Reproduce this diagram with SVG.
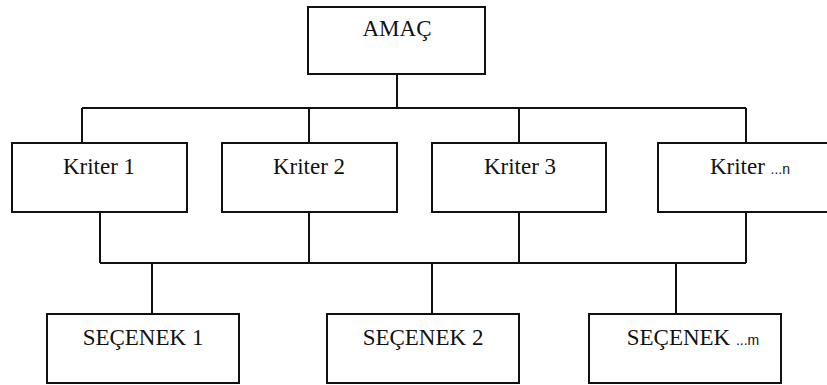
<svg xmlns="http://www.w3.org/2000/svg" width="827" height="385" viewBox="0 0 827 385">
<style>
.box{fill:#fff;stroke:#111;stroke-width:2}
.t{font-family:"Liberation Serif","Times New Roman",serif;font-size:23px;fill:#111;text-anchor:middle}
.s{font-family:"Liberation Sans",Arial,sans-serif;font-size:14px}
.c{fill:none;stroke:#111;stroke-width:2}
</style>
<rect width="827" height="385" fill="#fff"/>
<g id="connectors">
<path class="c" d="M397 74V108M82 108H746M82 108V143M309 108V143M519 108V143M746 108V143"/>
<path class="c" d="M100 212V263M309 212V263M519 212V263M746 212V263M100 263H746"/>
<path class="c" d="M152 263V314M432 263V314M676 263V314"/>
</g>
<g id="amac"><rect class="box" x="308" y="7" width="177" height="67"/><text class="t" x="397" y="36">AMAÇ</text></g>
<g id="kriter1"><rect class="box" x="12" y="143" width="175" height="69"/><text class="t" x="99" y="174">Kriter 1</text></g>
<g id="kriter2"><rect class="box" x="222" y="143" width="175" height="69"/><text class="t" x="309" y="174">Kriter 2</text></g>
<g id="kriter3"><rect class="box" x="432" y="143" width="174" height="69"/><text class="t" x="520" y="174">Kriter 3</text></g>
<g id="kritern"><rect class="box" x="658" y="143" width="180" height="69"/><text class="t" x="750" y="174">Kriter <tspan class="s">...n</tspan></text></g>
<g id="secenek1"><rect class="box" x="47" y="314" width="192" height="69"/><text class="t" x="143" y="345">SEÇENEK 1</text></g>
<g id="secenek2"><rect class="box" x="327" y="314" width="192" height="69"/><text class="t" x="423" y="345">SEÇENEK 2</text></g>
<g id="secenekm"><rect class="box" x="589" y="314" width="192" height="69"/><text class="t" x="693" y="345">SEÇENEK <tspan class="s">...m</tspan></text></g>
</svg>
